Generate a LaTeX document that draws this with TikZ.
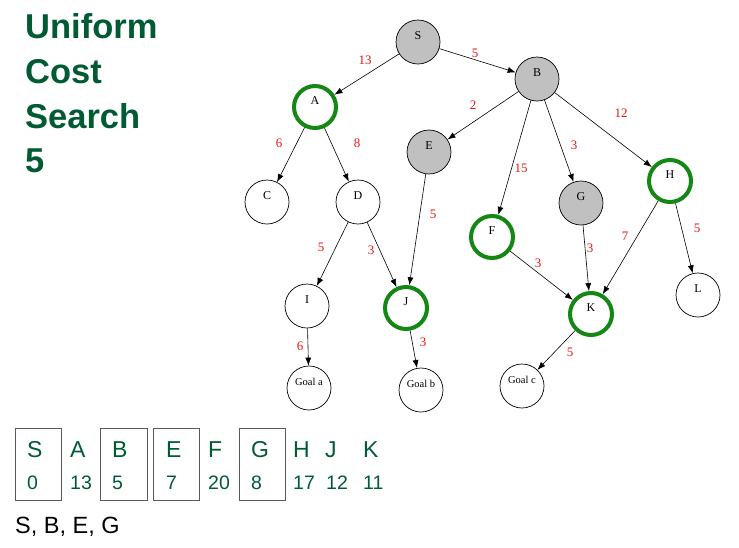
\documentclass[tikz,border=0pt]{standalone}
\usepackage{fontspec}
\setmainfont{Liberation Serif}
\newfontfamily\arialfont{Liberation Sans}
\usetikzlibrary{arrows.meta}
\definecolor{ucsgreen}{RGB}{0,90,50}
\definecolor{ringgreen}{RGB}{20,135,20}
\definecolor{nodegray}{RGB}{192,192,192}
\definecolor{edgered}{RGB}{235,20,20}
\definecolor{boxgray}{RGB}{90,90,90}

\tikzset{
  vertex/.style={circle, draw=black, line width=0.7pt, minimum size=44pt, inner sep=0pt,
    font=\fontsize{12}{12}\selectfont, text height=2pt, text depth=8pt},
  goalv/.style={vertex, font=\fontsize{10.5}{10.5}\selectfont},
  visited/.style={vertex, fill=nodegray},
  frontier/.style={vertex, draw=ringgreen, line width=4pt, minimum size=42pt},
  edge/.style={-{Latex[length=8pt,width=6pt]}, line width=0.6pt},
  elab/.style={text=edgered, font=\fontsize{13}{13}\selectfont, inner sep=0pt},
  title/.style={anchor=base west, text=ucsgreen, inner sep=0pt,
    font=\arialfont\bfseries\fontsize{34.5}{34.5}\selectfont},
  qname/.style={anchor=base west, text=ucsgreen, inner sep=0pt,
    font=\arialfont\fontsize{23}{23}\selectfont},
  qcost/.style={anchor=base west, text=ucsgreen, inner sep=0pt,
    font=\arialfont\fontsize{19.5}{19.5}\selectfont},
  qbox/.style={draw=boxgray, line width=1pt},
}

\begin{document}
\begin{tikzpicture}[x=1pt, y=-1pt]
\useasboundingbox (0,0) rectangle (739,547);

% heading
\node[title] (t1) at (25,38)  {Uniform};
\node[title] (t2) at (25,83)  {Cost};
\node[title] (t3) at (25,128) {Search};
\node[title] (t4) at (25,172) {5};

% search tree
\node[visited]  (S)  at (418,42)  {S};
\node[visited]  (B)  at (537,79)  {B};
\node[frontier] (A)  at (315,107) {A};
\node[visited]  (E)  at (429,152) {E};
\node[frontier] (H)  at (670,181) {H};
\node[vertex]   (C)  at (267,202) {C};
\node[vertex]   (D)  at (358,202) {D};
\node[visited]  (G)  at (581,203) {G};
\node[frontier] (F)  at (492,237) {F};
\node[vertex]   (I)  at (307,306) {I};
\node[frontier] (J)  at (406,308) {J};
\node[frontier] (K)  at (591,314) {K};
\node[vertex]   (L)  at (698,295) {L};
\node[goalv]    (ga) at (309,388) {Goal a};
\node[goalv]    (gb) at (421,390) {Goal b};
\node[goalv]    (gc) at (522,386) {Goal c};

\draw[edge] (S) -- (A);
\draw[edge] (S) -- (B);
\draw[edge] (A) -- (C);
\draw[edge] (A) -- (D);
\draw[edge] (B) -- (E);
\draw[edge] (B) -- (F);
\draw[edge] (B) -- (G);
\draw[edge] (B) -- (H);
\draw[edge] (D) -- (I);
\draw[edge] (D) -- (J);
\draw[edge] (E) -- (J);
\draw[edge] (F) -- (K);
\draw[edge] (G) -- (K);
\draw[edge] (H) -- (K);
\draw[edge] (H) -- (L);
\draw[edge] (I) -- (ga);
\draw[edge] (J) -- (gb);
\draw[edge] (K) -- (gc);

% step costs
\node[elab] (wSA) at (365,60)  {13};
\node[elab] (wSB) at (475,53)  {5};
\node[elab] (wAC) at (279,143) {6};
\node[elab] (wAD) at (357,143) {8};
\node[elab] (wBE) at (473,105) {2};
\node[elab] (wBH) at (621,113) {12};
\node[elab] (wBF) at (521,168) {15};
\node[elab] (wBG) at (574,145) {3};
\node[elab] (wEJ) at (433,214) {5};
\node[elab] (wDI) at (321,247) {5};
\node[elab] (wDJ) at (371,250) {3};
\node[elab] (wFK) at (538,263) {3};
\node[elab] (wGK) at (590,248) {3};
\node[elab] (wHK) at (625,236) {7};
\node[elab] (wHL) at (697,228) {5};
\node[elab] (wIa) at (300,346) {6};
\node[elab] (wJb) at (423,342) {3};
\node[elab] (wKc) at (570,352) {5};

% queue of path costs
\draw[qbox] (15,428)  rectangle (61,500);
\draw[qbox] (100,428) rectangle (147,500);
\draw[qbox] (153,428) rectangle (199,500);
\draw[qbox] (239,428) rectangle (285,500);

\node[qname] (qS) at (27,457)  {S};
\node[qname] (qA) at (70,457)  {A};
\node[qname] (qB) at (112,457) {B};
\node[qname] (qE) at (166,457) {E};
\node[qname] (qF) at (208,457) {F};
\node[qname] (qG) at (251,457) {G};
\node[qname] (qH) at (293,457) {H};
\node[qname] (qJ) at (325,457) {J};
\node[qname] (qK) at (363,457) {K};

\node[qcost] (cS) at (27,489)  {0};
\node[qcost] (cA) at (70,489)  {13};
\node[qcost] (cB) at (112,489) {5};
\node[qcost] (cE) at (166,489) {7};
\node[qcost] (cF) at (208,489) {20};
\node[qcost] (cG) at (251,489) {8};
\node[qcost] (cH) at (293,489) {17};
\node[qcost] (cJ) at (326,489) {12};
\node[qcost] (cK) at (363,489) {11};

\node[anchor=base west, inner sep=0pt, font=\arialfont\fontsize{23.5}{23.5}\selectfont]
  (order) at (15,533) {S, B, E, G};
\end{tikzpicture}
\end{document}
